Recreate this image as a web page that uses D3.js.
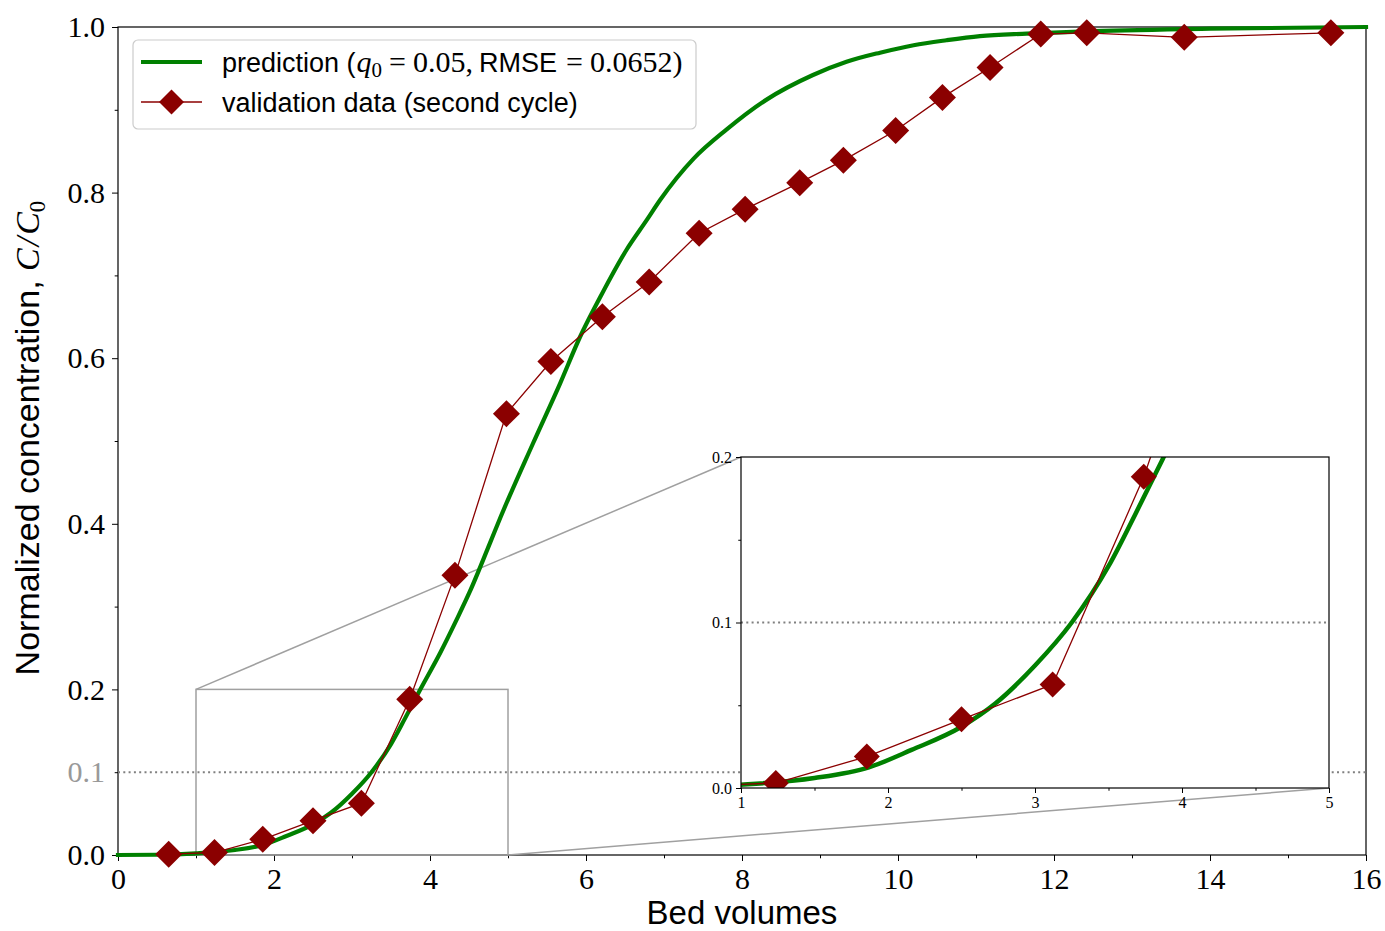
<!DOCTYPE html>
<html><head><meta charset="utf-8">
<script src="https://cdn.jsdelivr.net/npm/d3@7"></script>
<style>
html,body{margin:0;padding:0;background:#fff;}
svg{display:block;}
</style></head><body><div id="chart"></div>
<script>
// prediction curve (bed volumes, C/C0)
const predX=[0,0.5,1.0,1.5,1.87,2.16,2.5,2.73,3.0,3.25,3.5,3.68,3.87,4.13,4.34,4.51,4.77,4.9,5.32,5.67,5.92,6.2,6.52,6.78,6.95,7.38,7.80,8.31,8.91,9.34,9.77,10.2,10.62,11.05,11.65,12.5,14,16];
const predY=[0,0.0003,0.002,0.006,0.0125,0.023,0.037,0.051,0.074,0.10,0.134,0.165,0.199,0.244,0.284,0.318,0.377,0.407,0.497,0.570,0.625,0.677,0.731,0.767,0.791,0.841,0.876,0.912,0.942,0.958,0.969,0.978,0.984,0.989,0.992,0.995,0.998,1.0];
// validation data, second cycle
const valX=[0.65,1.237,1.856,2.50,3.12,3.74,4.32,4.98,5.55,6.21,6.81,7.45,8.04,8.74,9.30,9.97,10.57,11.18,11.83,12.42,13.67,15.55];
const valY=[0.001,0.003,0.019,0.0415,0.0626,0.188,0.338,0.533,0.596,0.650,0.692,0.751,0.780,0.812,0.839,0.875,0.915,0.951,0.9915,0.993,0.9875,0.993];
const xMajor=[0,2,4,6,8,10,12,14,16], xMinor=[1,3,5,7,9,11,13,15];
const yMajor=[0,0.2,0.4,0.6,0.8,1.0], yMinor=[0.1,0.3,0.5,0.7,0.9];
const inXMajor=[1,2,3,4,5], inXMinor=[1.5,2.5,3.5,4.5];
const inYMajor=[0,0.1,0.2], inYMinor=[0.05,0.15];
const threshold=0.1, zoomBox={x0:1,x1:5,y0:0,y1:0.2};

const W=1385,H=931;
const SERIF='"Liberation Serif","DejaVu Serif",serif', SANS='"Liberation Sans",Arial,sans-serif';
const GREEN='#008000', RED='#8b0000', GREY='#a0a0a0';
const svg=d3.select('#chart').append('svg').attr('width',W).attr('height',H);

const pred=predX.map((x,i)=>[x,predY[i]]);
const val=valX.map((x,i)=>[x,valY[i]]);

const x=d3.scaleLinear().domain([0,16]).range([118,1366]);
const y=d3.scaleLinear().domain([0,1]).range([855,27]);

function axes(g,xs,ys,o){
 const [l,r]=xs.range(),[b,t]=ys.range();
 g.append('g').attr('transform',`translate(0,${b})`).call(d3.axisBottom(xs).tickValues(o.xMaj).tickSize(o.tl).tickPadding(o.tp).tickFormat(d3.format('d')));
 g.append('g').attr('transform',`translate(0,${b})`).call(d3.axisBottom(xs).tickValues(o.xMin).tickSize(o.tl*0.55).tickFormat(''));
 g.append('g').attr('transform',`translate(${l},0)`).call(d3.axisLeft(ys).tickValues(o.yMaj).tickSize(o.tl).tickPadding(o.tp).tickFormat(d3.format('.1f')));
 g.append('g').attr('transform',`translate(${l},0)`).call(d3.axisLeft(ys).tickValues(o.yMin).tickSize(o.tl*0.55).tickFormat(''));
 g.selectAll('.domain').remove();
 g.selectAll('.tick line').attr('stroke','#000').attr('stroke-width',1);
 g.selectAll('.tick text').attr('font-family',SERIF).attr('font-size',o.fs).attr('fill','#000');
 g.append('rect').attr('x',l).attr('y',t).attr('width',r-l).attr('height',b-t).attr('fill','none').attr('stroke','#000').attr('stroke-width',1.2);
}

function diamond(g,pts,xs,ys,s){
 g.selectAll(null).data(pts).enter().append('path')
  .attr('d',d=>`M${xs(d[0])},${ys(d[1])-s}L${xs(d[0])+s},${ys(d[1])}L${xs(d[0])},${ys(d[1])+s}L${xs(d[0])-s},${ys(d[1])}Z`)
  .attr('fill',RED);
}

// main axes
const main=svg.append('g');
axes(main,x,y,{xMaj:xMajor,xMin:xMinor,yMaj:yMajor,yMin:yMinor,tl:6,tp:7,fs:30});
// extra grey 0.1 label
main.append('text').attr('x',118-13).attr('y',y(threshold)).attr('dy','0.32em').attr('text-anchor','end')
 .attr('font-family',SERIF).attr('font-size',30).attr('fill','#999').text(d3.format('.1f')(threshold));

main.append('line').attr('x1',x(0)).attr('x2',x(16)).attr('y1',y(threshold)).attr('y2',y(threshold))
 .attr('stroke','#808080').attr('stroke-width',2).attr('stroke-dasharray','2,3.3');

// zoom box + connectors
main.append('rect').attr('x',x(zoomBox.x0)).attr('y',y(zoomBox.y1)).attr('width',x(zoomBox.x1)-x(zoomBox.x0)).attr('height',y(zoomBox.y0)-y(zoomBox.y1))
 .attr('fill','none').attr('stroke',GREY).attr('stroke-width',1.5);

const ix=d3.scaleLinear().domain([zoomBox.x0,zoomBox.x1]).range([741,1329]);
const iy=d3.scaleLinear().domain([zoomBox.y0,zoomBox.y1]).range([788,457]);
main.append('line').attr('x1',x(zoomBox.x0)).attr('y1',y(zoomBox.y1)).attr('x2',ix(zoomBox.x0)).attr('y2',iy(zoomBox.y1)).attr('stroke',GREY).attr('stroke-width',1.5);
main.append('line').attr('x1',x(zoomBox.x1)).attr('y1',y(zoomBox.y0)).attr('x2',ix(zoomBox.x1)).attr('y2',iy(zoomBox.y0)).attr('stroke',GREY).attr('stroke-width',1.5);

const line=(xs,ys,c)=>d3.line().x(d=>xs(d[0])).y(d=>ys(d[1])).curve(c||d3.curveLinear);
main.append('path').attr('d',line(x,y,d3.curveMonotoneX)(pred)).attr('fill','none').attr('stroke',GREEN).attr('stroke-width',4.2).attr('stroke-linecap','square');
main.append('path').attr('d',line(x,y)(val)).attr('fill','none').attr('stroke',RED).attr('stroke-width',1.3);
diamond(main,val,x,y,13.5);

// x / y labels
svg.append('text').attr('x',742).attr('y',924).attr('text-anchor','middle').attr('font-family',SANS).attr('font-size',33).text('Bed volumes');
const yl=svg.append('text').attr('transform','translate(39,438) rotate(-90)').attr('text-anchor','middle').attr('font-family',SANS).attr('font-size',34);
yl.append('tspan').text('Normalized concentration, ');
yl.append('tspan').attr('font-family',SERIF).attr('font-style','italic').text('C');
yl.append('tspan').attr('font-family',SERIF).attr('font-style','italic').attr('dx',2).text('/');
yl.append('tspan').attr('font-family',SERIF).attr('font-style','italic').attr('dx',2).text('C');
yl.append('tspan').attr('font-family',SERIF).attr('font-size',23).attr('dy',6).text('0');

// legend
const lg=svg.append('g');
lg.append('rect').attr('x',133).attr('y',40).attr('width',563).attr('height',89).attr('rx',5)
 .attr('fill','#fff').attr('fill-opacity',0.8).attr('stroke','#ccc').attr('stroke-width',1.2);
lg.append('line').attr('x1',141).attr('x2',202).attr('y1',62).attr('y2',62).attr('stroke',GREEN).attr('stroke-width',4.2);
lg.append('line').attr('x1',141).attr('x2',202).attr('y1',102).attr('y2',102).attr('stroke',RED).attr('stroke-width',1.3);
lg.append('path').attr('d','M171.5,89.5L184,102L171.5,114.5L159,102Z').attr('fill',RED);
const t1=lg.append('text').attr('x',222).attr('y',72).attr('font-family',SANS).attr('font-size',27);
t1.append('tspan').text('prediction (');
t1.append('tspan').attr('font-family',SERIF).attr('font-size',30).attr('font-style','italic').attr('dx',1).text('q');
t1.append('tspan').attr('font-family',SERIF).attr('font-size',21).attr('dy',5).text('0');
t1.append('tspan').attr('font-family',SERIF).attr('font-size',30).attr('dy',-5).attr('dx',7).text('=');
t1.append('tspan').attr('font-family',SERIF).attr('font-size',30).attr('dx',7).text('0.05');
t1.append('tspan').attr('font-family',SERIF).attr('font-size',30).text(',');
t1.append('tspan').attr('dx',6).text('RMSE');
t1.append('tspan').attr('font-family',SERIF).attr('font-size',30).attr('dx',9).text('=');
t1.append('tspan').attr('font-family',SERIF).attr('font-size',30).attr('dx',7).text('0.0652)');
lg.append('text').attr('x',222).attr('y',112).attr('font-family',SANS).attr('font-size',27).text('validation data (second cycle)');

// inset
const ins=svg.append('g');
ins.append('rect').attr('x',741).attr('y',457).attr('width',588).attr('height',331).attr('fill','#fff');
svg.append('clipPath').attr('id','inclip').append('rect').attr('x',741).attr('y',457).attr('width',588).attr('height',331);
const body=ins.append('g').attr('clip-path','url(#inclip)');
body.append('line').attr('x1',ix(zoomBox.x0)).attr('x2',ix(zoomBox.x1)).attr('y1',iy(threshold)).attr('y2',iy(threshold))
 .attr('stroke','#808080').attr('stroke-width',2).attr('stroke-dasharray','2,3.3');
body.append('path').attr('d',line(ix,iy,d3.curveMonotoneX)(pred)).attr('fill','none').attr('stroke',GREEN).attr('stroke-width',4.5);
body.append('path').attr('d',line(ix,iy)(val)).attr('fill','none').attr('stroke',RED).attr('stroke-width',1.3);
diamond(body,val,ix,iy,13);
axes(ins,ix,iy,{xMaj:inXMajor,xMin:inXMinor,yMaj:inYMajor,yMin:inYMinor,tl:5,tp:4,fs:16});
</script>
</body></html>
